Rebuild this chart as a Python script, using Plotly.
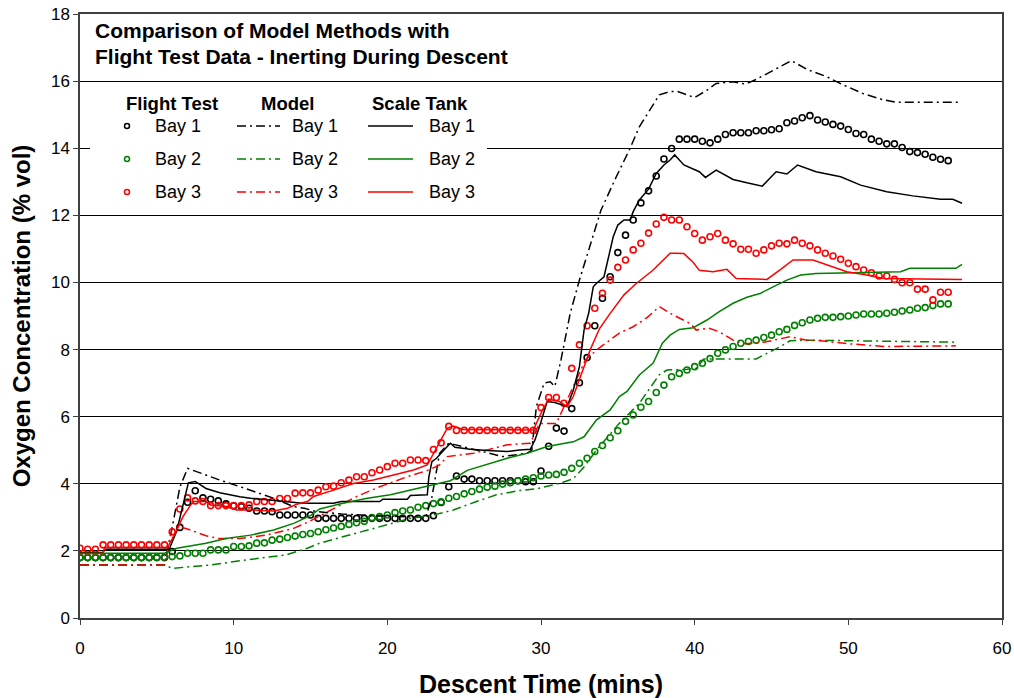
import plotly.graph_objects as go

# Flight test samples, one every 0.5 min from t = 0
FT_BAY1 = [
    1.80, 1.80, 1.80, 1.80, 1.80, 1.80, 1.80, 1.80, 1.80, 1.80, 1.80, 1.80,
    1.98, 2.70, 3.45, 3.79, 3.58, 3.54, 3.49, 3.40, 3.34, 3.32,
    3.27, 3.19, 3.19, 3.17, 3.07, 3.07, 3.07, 3.07, 3.07,
    2.97, 2.97, 2.97, 2.97, 2.97, 2.97, 2.97, 2.97, 2.97, 2.97, 2.97, 2.97, 2.97, 2.97, 2.97,
    3.05, 3.44, 3.91, 4.23, 4.14, 4.14, 4.09, 4.09, 4.09, 4.09, 4.09, 4.09, 4.06, 4.06,
    4.38, 5.12, 5.66, 5.57, 6.24, 7.01, 7.76, 8.71, 9.53, 10.17,
    10.89, 11.41, 11.86, 12.37, 12.73, 13.17, 13.68, 13.99, 14.27, 14.27,
    14.27, 14.21, 14.16, 14.27, 14.41, 14.46, 14.46, 14.46, 14.52, 14.52,
    14.55, 14.58, 14.76, 14.81, 14.91, 14.97, 14.84, 14.78, 14.71, 14.66,
    14.56, 14.44, 14.41, 14.27, 14.21, 14.13, 14.13, 14.02, 13.90, 13.87,
    13.82, 13.73, 13.67, 13.63,
]
FT_BAY2 = [
    1.80, 1.80, 1.80, 1.80, 1.80, 1.80, 1.80, 1.80, 1.80, 1.80,
    1.81, 1.81, 1.83, 1.85, 1.93, 1.93, 1.93, 2.03, 2.03, 2.03,
    2.13, 2.13, 2.15, 2.23, 2.24, 2.32, 2.35, 2.40, 2.44, 2.49,
    2.52, 2.57, 2.63, 2.68, 2.73, 2.79, 2.84, 2.88, 2.99, 3.02,
    3.07, 3.14, 3.19, 3.22, 3.30, 3.35, 3.41, 3.46, 3.57, 3.62,
    3.70, 3.77, 3.84, 3.90, 3.93, 3.99, 4.03, 4.09, 4.14, 4.18,
    4.23, 4.26, 4.28, 4.34, 4.46, 4.61, 4.76, 4.96, 5.14, 5.37,
    5.58, 5.86, 6.05, 6.28, 6.45, 6.72, 6.94, 7.19, 7.29, 7.39,
    7.49, 7.59, 7.73, 7.89, 7.99, 8.09, 8.19, 8.24, 8.28, 8.36,
    8.43, 8.53, 8.60, 8.72, 8.80, 8.88, 8.93, 8.96, 8.96, 8.98,
    9.00, 9.03, 9.06, 9.06, 9.06, 9.08, 9.11, 9.15, 9.18, 9.23,
    9.25, 9.31, 9.36, 9.36,
]
FT_BAY3 = [
    2.08, 2.05, 2.05, 2.18, 2.18, 2.18, 2.18, 2.18, 2.18, 2.18, 2.18, 2.18,
    2.57, 3.25, 3.58, 3.49, 3.47, 3.35, 3.35, 3.35, 3.35, 3.35,
    3.37, 3.47, 3.47, 3.47, 3.56, 3.56, 3.72, 3.73, 3.73, 3.81,
    3.91, 3.93, 4.03, 4.11, 4.21, 4.21, 4.33, 4.41, 4.51, 4.61,
    4.61, 4.71, 4.71, 4.69, 5.02, 5.22, 5.71, 5.59,
    5.59, 5.59, 5.59, 5.59, 5.59, 5.59, 5.59, 5.59, 5.59, 5.59,
    6.27, 6.57, 6.57, 6.40, 7.44, 8.14, 8.71, 9.23, 9.68, 10.07,
    10.45, 10.67, 10.97, 11.17, 11.47, 11.74, 11.94, 11.86, 11.86, 11.66,
    11.46, 11.26, 11.36, 11.46, 11.26, 11.15, 10.99, 10.99, 10.87, 10.97,
    11.09, 11.17, 11.15, 11.26, 11.17, 11.09, 10.97, 10.87, 10.79, 10.69,
    10.57, 10.47, 10.37, 10.29, 10.19, 10.19, 10.09, 9.99, 9.99, 9.80,
    9.80, 9.48, 9.71, 9.71,
]
FT_TIME = [i * 0.5 for i in range(len(FT_BAY1))]

MODEL_BAY1_T = [0, 5.5, 6.0, 6.5, 7.0, 7.6, 9.1, 10.5, 11.7, 12.6, 13.9, 14.6, 15.4, 16.3, 17.0,
                19.0, 21.0, 22.5, 22.9, 23.4, 24.0, 24.5, 25.4, 26.5, 27.5, 29.1, 29.4, 29.7,
                30.2, 30.6, 30.9, 31.3, 31.9, 32.5, 33.2, 33.9, 34.9, 35.8, 36.4, 37.1, 37.7,
                38.4, 38.9, 39.5, 40.0, 40.8, 41.4, 42.5, 43.3, 44.0, 45.3, 46.3, 47.3, 48.6,
                49.7, 51.0, 52.3, 53.1, 57.3]
MODEL_BAY1 = [1.58, 1.58, 2.7, 3.9, 4.46, 4.36, 4.11, 3.90, 3.72, 3.57, 3.32, 3.27, 3.17, 3.12, 3.10,
              3.05, 3.02, 3.0, 3.6, 4.91, 5.21, 5.15, 5.06, 4.91, 4.81, 4.91, 5.0, 6.3,
              7.0, 7.04, 6.9, 7.69, 9.08, 10.07, 11.1, 12.15, 13.15, 14.0, 14.64, 15.14, 15.59,
              15.69, 15.69, 15.59, 15.51, 15.73, 15.93, 15.98, 15.91, 16.05, 16.38, 16.61, 16.35, 16.13,
              15.88, 15.62, 15.44, 15.37, 15.37]

MODEL_BAY2_T = [0, 5.5, 6.0, 8.5, 10.8, 13.4, 14.8, 15.6, 17.1, 18.7, 20.0, 21.5, 23.0, 24.3, 25.8,
                27.1, 28.6, 29.7, 31.2, 32.1, 32.8, 33.6, 35.1, 36.4, 37.7, 38.2, 39.5, 40.1,
                40.6, 44.0, 44.5, 45.5, 46.2, 47.3, 57.0]
MODEL_BAY2 = [1.58, 1.58, 1.48, 1.58, 1.73, 1.88, 2.08, 2.23, 2.42, 2.62, 2.77, 2.97, 3.07, 3.22, 3.47,
              3.67, 3.80, 3.85, 4.01, 4.15, 4.50, 5.00, 5.80, 6.40, 7.25, 7.39, 7.41, 7.44,
              7.72, 7.72, 7.84, 8.07, 8.26, 8.28, 8.22]

MODEL_BAY3_T = [0, 5.5, 6.0, 6.3, 7.2, 8.2, 9.0, 10.4, 12.1, 13.9, 14.8, 16.3, 18.0, 19.5, 21.3,
                22.7, 23.4, 23.9, 25.6, 26.5, 27.8, 29.3, 29.9, 30.6, 31.0, 32.0, 32.9, 33.8,
                35.1, 36.0, 36.9, 37.7, 38.6, 39.7, 40.1, 40.9, 41.6, 42.5, 43.3, 44.5, 46.2,
                47.3, 48.2, 50.1, 52.3, 57.0]
MODEL_BAY3 = [1.58, 1.58, 2.7, 2.75, 2.62, 2.45, 2.37, 2.37, 2.47, 2.67, 2.85, 3.22, 3.62, 3.91, 4.21,
              4.41, 4.56, 4.81, 4.91, 5.01, 5.16, 5.21, 5.80, 5.80, 5.80, 6.80, 7.70, 8.05,
              8.49, 8.68, 8.95, 9.28, 9.03, 8.78, 8.58, 8.64, 8.53, 8.28, 8.17, 8.22, 8.38,
              8.28, 8.26, 8.17, 8.09, 8.11]

TANK_BAY1_T = [0, 1.5, 1.6, 5.8, 6.3, 6.8, 7.05, 7.5, 8.2, 9.1,
               10.4, 11.1, 12.1, 13.2, 14.5, 16.5, 17.0, 19.5, 19.7, 21.3,
               21.5, 22.6, 22.7, 22.9, 23.2, 23.9, 24.1, 24.4, 25.4, 26.5,
               27.8, 28.6, 29.3, 29.6, 29.9, 30.4, 30.9, 31.7, 32.1, 32.5,
               32.8, 33.1, 33.4, 33.6, 34.1, 34.7, 35.0, 35.4, 35.8, 36.0,
               36.4, 37.0, 37.5, 38.0, 38.4, 38.7, 39.0, 39.3, 40.3, 40.7,
               41.4, 42.5, 43.4, 44.4, 45.3, 46.0, 46.7, 47.9, 49.5, 50.8,
               52.5, 54.2, 56.0, 56.8, 57.4]
TANK_BAY1 = [1.95, 1.95, 2.05, 2.05, 2.6, 3.5, 4.03, 4.07, 3.86, 3.73,
             3.61, 3.57, 3.52, 3.47, 3.42, 3.42, 3.47, 3.47, 3.54, 3.54,
             3.65, 3.67, 4.2, 4.66, 4.76, 5.11, 5.21, 5.09, 5.03, 4.99,
             4.96, 5.01, 5.03, 5.30, 5.70, 6.45, 6.42, 6.30, 6.79, 7.49,
             8.58, 9.08, 9.87, 9.97, 10.17, 11.36, 11.71, 11.86, 11.86, 12.11,
             12.46, 12.78, 13.25, 13.50, 13.65, 13.80, 13.65, 13.50, 13.30, 13.13,
             13.35, 13.07, 12.97, 12.87, 13.30, 13.23, 13.50, 13.30, 13.15, 12.90,
             12.70, 12.58, 12.48, 12.48, 12.36]

TANK_BAY2_T = [0, 5.5, 6.3, 8.2, 9.5, 11.1, 12.6, 13.9, 15.0, 15.6,
               17.1, 18.7, 20.2, 21.5, 23.0, 24.1, 25.2, 26.5, 27.8, 29.1,
               30.4, 31.2, 32.1, 32.8, 33.6, 34.5, 35.1, 35.6, 36.4, 37.3,
               37.9, 38.4, 39.0, 39.9, 40.8, 41.6, 42.5, 43.4, 44.3, 45.1,
               46.0, 46.9, 47.9, 53.4, 54.0, 57.0, 57.4]
TANK_BAY2 = [1.93, 1.93, 2.08, 2.23, 2.37, 2.47, 2.62, 2.82, 3.05, 3.25,
             3.42, 3.57, 3.67, 3.81, 3.96, 4.09, 4.40, 4.59, 4.76, 4.91,
             5.11, 5.18, 5.25, 5.40, 5.90, 6.20, 6.60, 6.75, 7.24, 7.60,
             8.19, 8.43, 8.60, 8.65, 8.88, 9.13, 9.38, 9.56, 9.68, 9.87,
             10.07, 10.22, 10.27, 10.32, 10.42, 10.42, 10.54]

TANK_BAY3_T = [0, 1.5, 1.6, 5.7, 6.3, 6.7, 7.2, 7.4, 8.2, 8.5,
               9.5, 10.2, 11.3, 12.6, 13.5, 14.1, 14.8, 15.2, 16.5, 17.8,
               19.1, 20.4, 21.7, 22.6, 23.0, 23.4, 23.9, 24.3, 24.9, 29.5,
               29.8, 30.1, 30.5, 31.2, 31.7, 32.1, 32.8, 33.2, 33.8, 34.5,
               35.4, 36.2, 37.3, 38.0, 38.4, 38.8, 39.3, 39.9, 40.3, 41.2,
               42.1, 42.7, 44.7, 45.6, 46.4, 47.7, 48.6, 49.9, 51.2, 52.3,
               57.4]
TANK_BAY3 = [1.92, 1.92, 2.10, 2.10, 2.62, 3.02, 3.37, 3.47, 3.47, 3.37,
             3.32, 3.22, 3.22, 3.19, 3.27, 3.39, 3.47, 3.62, 3.81, 4.01,
             4.11, 4.26, 4.41, 4.56, 4.91, 5.25, 5.66, 5.72, 5.62, 5.60,
             5.90, 6.20, 6.52, 6.45, 6.30, 6.60, 7.49, 7.99, 8.62, 9.08,
             9.63, 9.97, 10.37, 10.67, 10.87, 10.87, 10.86, 10.60, 10.36, 10.32,
             10.39, 10.12, 10.09, 10.39, 10.67, 10.67, 10.52, 10.32, 10.22, 10.12,
             10.09]

BAY_NAMES = ["Bay 1", "Bay 2", "Bay 3"]
BAY_COLORS = ["#000000", "#008000", "#FF0000"]
GROUP_TITLES = ["Flight Test", "Model", "Scale Tank"]
TITLE_LINES = ["Comparison of Model Methods with", "Flight Test Data - Inerting During Descent"]

FONT = "Liberation Sans, Arial, sans-serif"
DASHDOT = "9px,4px,2px,4px"

fig = go.Figure()

for name, color, vals in zip(BAY_NAMES, BAY_COLORS, [FT_BAY1, FT_BAY2, FT_BAY3]):
    fig.add_trace(go.Scatter(
        x=FT_TIME, y=vals, mode="markers", name="Flight Test " + name,
        marker=dict(symbol="circle-open", size=6, color=color, line=dict(width=1.6, color=color)),
    ))

for name, color, t, vals in zip(BAY_NAMES, BAY_COLORS,
                                [MODEL_BAY1_T, MODEL_BAY2_T, MODEL_BAY3_T],
                                [MODEL_BAY1, MODEL_BAY2, MODEL_BAY3]):
    fig.add_trace(go.Scatter(
        x=t, y=vals, mode="lines", name="Model " + name,
        line=dict(color=color, width=1.5, dash=DASHDOT),
    ))

for name, color, t, vals in zip(BAY_NAMES, BAY_COLORS,
                                [TANK_BAY1_T, TANK_BAY2_T, TANK_BAY3_T],
                                [TANK_BAY1, TANK_BAY2, TANK_BAY3]):
    fig.add_trace(go.Scatter(
        x=t, y=vals, mode="lines", name="Scale Tank " + name,
        line=dict(color=color, width=1.5),
    ))

# plot area is 80..1002 x 14..618 px; helpers to place legend items in paper space
def px_x(p):
    return (p - 80) / 922


def px_y(p):
    return (618 - p) / 604


shapes = [dict(type="rect", xref="paper", yref="paper", layer="above",
               x0=px_x(90), x1=px_x(487), y0=px_y(214), y1=px_y(82),
               fillcolor="white", line=dict(width=0))]
annotations = []

for i, line in enumerate(TITLE_LINES):
    annotations.append(dict(text=f"<b>{line}</b>", xref="paper", yref="paper",
                            x=px_x(93), y=px_y(30 + 27 * i), xanchor="left", yanchor="middle",
                            showarrow=False, font=dict(size=21, color="black", family=FONT)))

for title, left in zip(GROUP_TITLES, [124, 259, 370]):
    annotations.append(dict(text=f"<b>{title}</b>", xref="paper", yref="paper",
                            x=px_x(left), y=px_y(103), xanchor="left", yanchor="middle",
                            showarrow=False, font=dict(size=18.5, color="black", family=FONT)))

for i, (name, color) in enumerate(zip(BAY_NAMES, BAY_COLORS)):
    row_y = px_y(126 + 33 * i)
    shapes.append(dict(type="circle", xref="paper", yref="paper", layer="above",
                       xsizemode="pixel", ysizemode="pixel",
                       xanchor=px_x(127), yanchor=row_y, x0=-2.5, x1=2.5, y0=-2.5, y1=2.5,
                       line=dict(color=color, width=1.5)))
    shapes.append(dict(type="line", xref="paper", yref="paper", layer="above",
                       x0=px_x(237), x1=px_x(280), y0=row_y, y1=row_y,
                       line=dict(color=color, width=1.5, dash=DASHDOT)))
    shapes.append(dict(type="line", xref="paper", yref="paper", layer="above",
                       x0=px_x(368), x1=px_x(413), y0=row_y, y1=row_y,
                       line=dict(color=color, width=1.5)))
    for left in [153, 290, 427]:
        annotations.append(dict(text=name, xref="paper", yref="paper",
                                x=px_x(left), y=row_y, xanchor="left", yanchor="middle",
                                showarrow=False, font=dict(size=18, color="black", family=FONT)))

fig.update_layout(
    width=1014,
    height=698,
    margin=dict(l=80, r=12, t=14, b=80, autoexpand=False),
    paper_bgcolor="white",
    plot_bgcolor="white",
    showlegend=False,
    font=dict(family=FONT, size=17, color="black"),
    shapes=shapes,
    annotations=annotations,
    xaxis=dict(
        range=[0, 60], dtick=10, showgrid=False, zeroline=False, automargin=False,
        showline=True, linecolor="#404040", linewidth=1.5, mirror=True,
        ticks="outside", ticklen=5, tickcolor="#404040", ticklabelstandoff=9,
        ticklabeloverflow="allow",
        tickfont=dict(size=17),
        title=dict(text="<b>Descent Time (mins)</b>", font=dict(size=25), standoff=20),
    ),
    yaxis=dict(
        range=[0, 18], dtick=2, showgrid=True, gridcolor="black", gridwidth=1, zeroline=False,
        automargin=False,
        showline=True, linecolor="#404040", linewidth=1.5, mirror=True,
        ticks="outside", ticklen=5, tickcolor="#404040", ticklabelstandoff=0,
        ticklabeloverflow="allow",
        tickfont=dict(size=17),
        title=dict(text="<b>Oxygen Concentration (% vol)</b>", font=dict(size=24), standoff=14),
    ),
)

# drop the default 8px page margin so the 1014x698 figure fills the window exactly
fig.write_html(
    "out.html",
    config={"displayModeBar": False},
    post_script="document.body.style.margin='0';document.body.style.overflow='hidden';",
)
